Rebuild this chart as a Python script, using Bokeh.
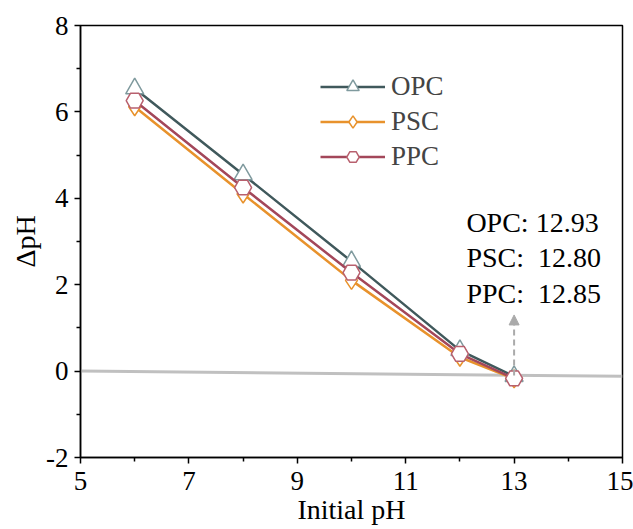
from bokeh.plotting import figure
from bokeh.models import Range1d, FixedTicker, Legend, LegendItem, Arrow, NormalHead, ColumnDataSource, LabelSet
from bokeh.core.properties import value
from bokeh.embed import file_html
from bokeh.resources import INLINE

initial_ph = [6, 8, 10, 12, 13]
opc = [6.54, 4.55, 2.54, 0.48, -0.12]
psc = [6.12, 4.10, 2.10, 0.32, -0.18]
ppc = [6.26, 4.25, 2.28, 0.40, -0.17]
fit_x = [5, 15]
fit_y = [0.0, -0.12]
annot_lines = ["OPC: 12.93", "PSC:\u00a0 12.80", "PPC:\u00a0 12.85"]
annot_y = [3.44, 2.63, 1.80]
x_ticks = [5, 7, 9, 11, 13, 15]
y_ticks = [-2, 0, 2, 4, 6, 8]

FONT = "Liberation Serif"

p = figure(width=633, height=529, output_backend="svg", toolbar_location=None,
           x_range=Range1d(5, 15), y_range=Range1d(-2, 8),
           min_border_left=80, min_border_right=11, min_border_top=25, min_border_bottom=72)
p.grid.visible = False
p.outline_line_color = "black"
p.outline_line_width = 1.5
p.background_fill_color = "white"
p.border_fill_color = "white"

p.xaxis.ticker = FixedTicker(ticks=x_ticks, minor_ticks=[6, 8, 10, 12, 14])
p.yaxis.ticker = FixedTicker(ticks=y_ticks, minor_ticks=[-1, 1, 3, 5, 7])
p.yaxis.major_label_overrides = {t: str(t) for t in y_ticks}
for ax in (p.xaxis, p.yaxis):
    ax.axis_line_width = 1.5
    ax.major_tick_line_width = 1.5
    ax.minor_tick_line_width = 1.5
    ax.major_tick_out = 6
    ax.major_tick_in = 0
    ax.minor_tick_out = 4
    ax.minor_tick_in = 0
    ax.major_label_text_font = FONT
    ax.major_label_text_font_size = "27px"
    ax.major_label_text_color = "black"
    ax.axis_label_text_font = FONT
    ax.axis_label_text_font_size = "28px"
    ax.axis_label_text_font_style = "normal"
    ax.axis_label_text_color = "black"
p.xaxis.axis_label = "Initial pH"
p.yaxis.axis_label = "ΔpH"
p.xaxis.major_label_standoff = 8
p.xaxis.axis_label_standoff = 1
p.yaxis.major_label_standoff = 6
p.yaxis.axis_label_standoff = 2

p.line(fit_x, fit_y, line_color="#c0c0c0", line_width=3)

arrow = Arrow(x_start=13, y_start=-0.1, x_end=13, y_end=1.3, line_color="#aaaaaa", line_width=2,
              line_dash="6 4",
              end=NormalHead(size=10, fill_color="#aaaaaa", line_color="#aaaaaa"))
p.add_layout(arrow)

series = [
    ("OPC", opc, "#40595c", "#7f9a9e", "triangle", 18),
    ("PSC", psc, "#e8922c", "#e8922c", "diamond", 18),
    ("PPC", ppc, "#a3475a", "#b8606e", "hex", 17),
]
items = []
for name, ys, lc, mc, marker, size in series:
    l = p.line(initial_ph, ys, line_color=lc, line_width=2.5)
    s = p.scatter(initial_ph, ys, marker=marker, size=size, fill_color="white",
                  line_color=mc, line_width=1.5)
    items.append(LegendItem(label=name, renderers=[l, s]))

src = ColumnDataSource(dict(x=[12.12] * 3, y=annot_y, t=annot_lines))
labels = LabelSet(x="x", y="y", text="t", source=src, text_font=value(FONT),
                  text_font_size=value("28px"), text_baseline="middle", text_align="left",
                  text_color="black")
p.add_layout(labels)

legend = Legend(items=items, location=(240, 285), glyph_width=65, glyph_height=31,
                spacing=4, label_text_font=FONT, label_text_font_size="27px",
                label_standoff=6, border_line_color=None, background_fill_alpha=0,
                padding=0, margin=0)
p.add_layout(legend)

open("out.html", "w").write(file_html(p, INLINE))
